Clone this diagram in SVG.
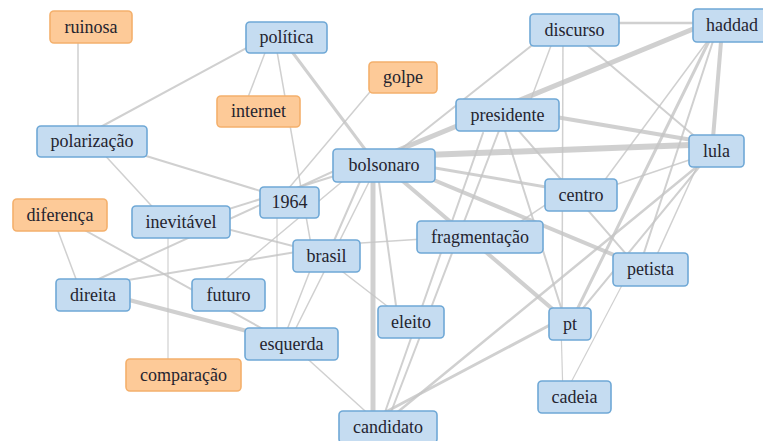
<svg xmlns="http://www.w3.org/2000/svg" width="763" height="441" viewBox="0 0 763 441">
<style>
.e{stroke:#c4c4c4;stroke-opacity:0.8;fill:none;stroke-linecap:round}
.b rect{fill:#c5dcf1;stroke:#6fa8d6;stroke-width:1.6}
.o rect{fill:#fdca98;stroke:#f4b06c;stroke-width:1.6}
.t{font-family:'Liberation Serif','DejaVu Serif',serif;font-size:18px;fill:#24242f;text-anchor:middle}
</style>
<rect width="763" height="441" fill="#ffffff"/>
<g id="connectors">
<line class="e" x1="78" y1="40" x2="78" y2="130" stroke-width="1.5"/>
<line class="e" x1="265" y1="38" x2="95" y2="130" stroke-width="2"/>
<line class="e" x1="268" y1="45" x2="245" y2="105" stroke-width="1.5"/>
<line class="e" x1="275" y1="40" x2="313" y2="256" stroke-width="1.5"/>
<line class="e" x1="287" y1="45" x2="373" y2="160" stroke-width="3"/>
<line class="e" x1="380" y1="80" x2="283" y2="195" stroke-width="1.5"/>
<line class="e" x1="120" y1="148" x2="290" y2="200" stroke-width="2"/>
<line class="e" x1="100" y1="150" x2="160" y2="215" stroke-width="1.5"/>
<line class="e" x1="52" y1="215" x2="82" y2="295" stroke-width="1.5"/>
<line class="e" x1="70" y1="222" x2="290" y2="344" stroke-width="2"/>
<line class="e" x1="90" y1="283" x2="345" y2="166" stroke-width="2"/>
<line class="e" x1="110" y1="283" x2="320" y2="248" stroke-width="2"/>
<line class="e" x1="110" y1="295" x2="270" y2="337" stroke-width="4"/>
<line class="e" x1="168" y1="225" x2="168" y2="375" stroke-width="1.2"/>
<line class="e" x1="200" y1="222" x2="320" y2="253" stroke-width="2"/>
<line class="e" x1="200" y1="218" x2="360" y2="168" stroke-width="2"/>
<line class="e" x1="215" y1="288" x2="350" y2="175" stroke-width="1.5"/>
<line class="e" x1="277" y1="205" x2="277" y2="340" stroke-width="1.2"/>
<line class="e" x1="283" y1="340" x2="315" y2="258" stroke-width="1.5"/>
<line class="e" x1="290" y1="340" x2="375" y2="170" stroke-width="1.5"/>
<line class="e" x1="330" y1="262" x2="400" y2="316" stroke-width="1.5"/>
<line class="e" x1="330" y1="245" x2="470" y2="236" stroke-width="1.5"/>
<line class="e" x1="330" y1="250" x2="365" y2="170" stroke-width="2"/>
<line class="e" x1="300" y1="352" x2="375" y2="420" stroke-width="1.5"/>
<line class="e" x1="373" y1="170" x2="373" y2="425" stroke-width="5"/>
<line class="e" x1="378" y1="175" x2="398" y2="320" stroke-width="2"/>
<line class="e" x1="483" y1="133" x2="384" y2="415" stroke-width="2"/>
<line class="e" x1="500" y1="128" x2="388" y2="420" stroke-width="2"/>
<line class="e" x1="380" y1="415" x2="565" y2="317" stroke-width="3"/>
<line class="e" x1="388" y1="420" x2="716" y2="151" stroke-width="2.5"/>
<line class="e" x1="400" y1="156" x2="716" y2="144" stroke-width="6"/>
<line class="e" x1="400" y1="162" x2="581" y2="193" stroke-width="3"/>
<line class="e" x1="400" y1="166" x2="650" y2="270" stroke-width="4"/>
<line class="e" x1="384" y1="165" x2="570" y2="324" stroke-width="4"/>
<line class="e" x1="720" y1="18" x2="384" y2="156" stroke-width="5"/>
<line class="e" x1="545" y1="35" x2="400" y2="150" stroke-width="2"/>
<line class="e" x1="574" y1="23" x2="730" y2="23" stroke-width="2.5"/>
<line class="e" x1="575" y1="35" x2="705" y2="145" stroke-width="2"/>
<line class="e" x1="555" y1="35" x2="525" y2="115" stroke-width="1.5"/>
<line class="e" x1="563" y1="30" x2="562" y2="320" stroke-width="1.5"/>
<line class="e" x1="520" y1="111" x2="716" y2="144" stroke-width="4"/>
<line class="e" x1="505" y1="115" x2="640" y2="270" stroke-width="2"/>
<line class="e" x1="500" y1="115" x2="565" y2="320" stroke-width="2"/>
<line class="e" x1="600" y1="190" x2="716" y2="151" stroke-width="1.5"/>
<line class="e" x1="575" y1="185" x2="505" y2="232" stroke-width="1.5"/>
<line class="e" x1="722" y1="30" x2="712" y2="150" stroke-width="4"/>
<line class="e" x1="712" y1="35" x2="590" y2="200" stroke-width="1.5"/>
<line class="e" x1="715" y1="35" x2="640" y2="265" stroke-width="2"/>
<line class="e" x1="712" y1="35" x2="570" y2="324" stroke-width="3"/>
<line class="e" x1="705" y1="160" x2="570" y2="324" stroke-width="2"/>
<line class="e" x1="700" y1="160" x2="650" y2="270" stroke-width="1.5"/>
<line class="e" x1="630" y1="270" x2="567" y2="390" stroke-width="1.2"/>
<line class="e" x1="561" y1="324" x2="563" y2="397" stroke-width="1.2"/>
</g>
<g id="ruinosa" class="o"><rect x="50" y="11" width="82" height="32" rx="4"/><text class="t" x="91" y="33">ruinosa</text></g>
<g id="politica" class="b"><rect x="246" y="22" width="81" height="31" rx="4"/><text class="t" x="286.5" y="43">política</text></g>
<g id="internet" class="o"><rect x="217" y="96" width="83" height="31" rx="4"/><text class="t" x="258.5" y="117">internet</text></g>
<g id="golpe" class="o"><rect x="369" y="62" width="68" height="31" rx="4"/><text class="t" x="403" y="83">golpe</text></g>
<g id="polarizacao" class="b"><rect x="37" y="126" width="110" height="31" rx="4"/><text class="t" x="92" y="147">polarização</text></g>
<g id="bolsonaro" class="b"><rect x="333" y="149" width="102" height="33" rx="4"/><text class="t" x="384" y="171">bolsonaro</text></g>
<g id="n1964" class="b"><rect x="260" y="187" width="59" height="31" rx="4"/><text class="t" x="289.5" y="208">1964</text></g>
<g id="diferenca" class="o"><rect x="13" y="199" width="94" height="32" rx="4"/><text class="t" x="60" y="221">diferença</text></g>
<g id="inevitavel" class="b"><rect x="132" y="206" width="98" height="32" rx="4"/><text class="t" x="181" y="228">inevitável</text></g>
<g id="brasil" class="b"><rect x="293" y="240" width="67" height="32" rx="4"/><text class="t" x="326.5" y="262">brasil</text></g>
<g id="direita" class="b"><rect x="56" y="279" width="74" height="32" rx="4"/><text class="t" x="93" y="301">direita</text></g>
<g id="futuro" class="b"><rect x="192" y="279" width="73" height="32" rx="4"/><text class="t" x="228.5" y="301">futuro</text></g>
<g id="esquerda" class="b"><rect x="245" y="328" width="93" height="32" rx="4"/><text class="t" x="291.5" y="350">esquerda</text></g>
<g id="comparacao" class="o"><rect x="126" y="359" width="115" height="32" rx="4"/><text class="t" x="183.5" y="381">comparação</text></g>
<g id="candidato" class="b"><rect x="339" y="411" width="98" height="32" rx="4"/><text class="t" x="388" y="433">candidato</text></g>
<g id="eleito" class="b"><rect x="378" y="306" width="66" height="32" rx="4"/><text class="t" x="411" y="328">eleito</text></g>
<g id="pt" class="b"><rect x="549" y="308" width="42" height="32" rx="4"/><text class="t" x="570" y="330">pt</text></g>
<g id="cadeia" class="b"><rect x="538" y="381" width="73" height="32" rx="4"/><text class="t" x="574.5" y="403">cadeia</text></g>
<g id="fragmentacao" class="b"><rect x="417" y="221" width="126" height="32" rx="4"/><text class="t" x="480" y="243">fragmentação</text></g>
<g id="petista" class="b"><rect x="613" y="253" width="75" height="33" rx="4"/><text class="t" x="650.5" y="275">petista</text></g>
<g id="centro" class="b"><rect x="545" y="179" width="72" height="32" rx="4"/><text class="t" x="581" y="201">centro</text></g>
<g id="lula" class="b"><rect x="689" y="135" width="55" height="32" rx="4"/><text class="t" x="716.5" y="157">lula</text></g>
<g id="presidente" class="b"><rect x="456" y="99" width="103" height="32" rx="4"/><text class="t" x="507.5" y="121">presidente</text></g>
<g id="discurso" class="b"><rect x="530" y="14" width="89" height="32" rx="4"/><text class="t" x="574.5" y="36">discurso</text></g>
<g id="haddad" class="b"><rect x="693" y="9" width="78" height="33" rx="4"/><text class="t" x="732" y="31">haddad</text></g>
</svg>
